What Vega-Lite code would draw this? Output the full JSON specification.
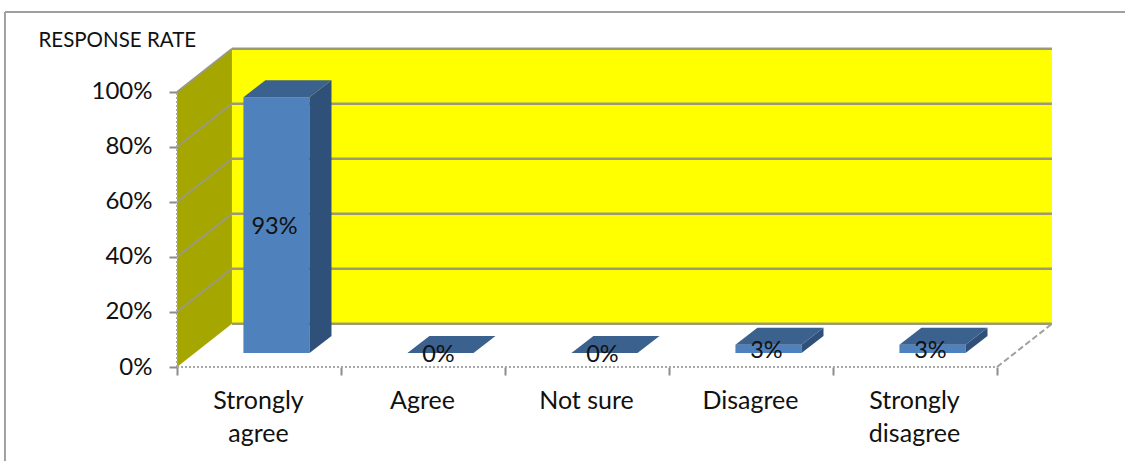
{
  "$schema": "https://vega.github.io/schema/vega-lite/v6.json",
  "width": 1125,
  "height": 461,
  "padding": 0,
  "autosize": {"type": "none"},
  "background": "white",
  "view": {"stroke": null},
  "config": {"font": "Lato", "text": {"font": "Lato"}},
  "params": [
    {"name": "depthX", "value": 0.335},
    {"name": "depthY", "value": 15.7},
    {"name": "barLeft", "value": 0.405},
    {"name": "barRight", "value": 0.808},
    {"name": "barDepthX", "value": 0.134},
    {"name": "barDepthY", "value": 6.18},
    {"name": "barBase", "value": 5.09}
  ],
  "datasets": {
    "responses": [
      {"category": "Strongly agree", "rate": 93},
      {"category": "Agree", "rate": 0},
      {"category": "Not sure", "rate": 0},
      {"category": "Disagree", "rate": 3},
      {"category": "Strongly disagree", "rate": 3}
    ],
    "levels": [
      {"level": 0}, {"level": 20}, {"level": 40},
      {"level": 60}, {"level": 80}, {"level": 100}
    ],
    "one": [{"note": "frame and walls"}]
  },
  "resolve": {"axis": {"x": "independent", "y": "independent"}},
  "layer": [
    {
      "data": {"name": "one"},
      "transform": [
        {"calculate": "depthX", "as": "wallLeft"},
        {"calculate": "5 + depthX", "as": "wallRight"},
        {"calculate": "depthY", "as": "wallBottom"},
        {"calculate": "100 + depthY", "as": "wallTop"}
      ],
      "mark": {"type": "rect", "fill": "#ffff00"},
      "encoding": {
        "x": {
          "field": "wallLeft", "type": "quantitative",
          "scale": {"domain": [-1.0793, 5.7805], "nice": false, "zero": false},
          "axis": {
            "orient": "bottom", "offset": -94, "values": [0, 1, 2, 3, 4, 5],
            "domain": false, "grid": false, "title": null,
            "tickSize": 8, "tickColor": "#8c8c8c", "tickWidth": 2,
            "labelOffset": 81, "labelPadding": 13, "labelFont": "Lato", "labelFontSize": 25,
            "labelColor": "#111111", "labelLineHeight": 33, "labelLimit": 300,
            "labelOverlap": false, "labelFlush": false, "labelBaseline": "top",
            "labelExpr": "datum.value == 0 ? ['Strongly', 'agree'] : datum.value == 1 ? 'Agree' : datum.value == 2 ? 'Not sure' : datum.value == 3 ? 'Disagree' : datum.value == 4 ? ['Strongly', 'disagree'] : ''"
          }
        },
        "x2": {"field": "wallRight"},
        "y": {
          "field": "wallBottom", "type": "quantitative",
          "scale": {"domain": [-34.18, 133.45], "nice": false, "zero": false},
          "axis": {
            "orient": "left", "offset": -177, "values": [0, 20, 40, 60, 80, 100],
            "domain": false, "grid": false,
            "tickSize": 8, "tickColor": "#8c8c8c", "tickWidth": 2,
            "labelPadding": 17, "labelFont": "Lato", "labelFontSize": 24, "labelColor": "#111111",
            "labelExpr": "datum.value + '%'",
            "title": "RESPONSE RATE", "titleFont": "Lato", "titleFontSize": 20.5,
            "titleFontWeight": "normal", "titleColor": "#111111", "titleAngle": 0,
            "titleAlign": "left", "titleBaseline": "middle", "titleX": -139, "titleY": 40
          }
        },
        "y2": {"field": "wallTop"}
      }
    },
    {
      "data": {"name": "one"},
      "transform": [
        {"calculate": "[0, 1]", "as": "t"},
        {"flatten": ["t"]},
        {"calculate": "datum.t * depthX", "as": "px"},
        {"calculate": "datum.t * depthY", "as": "low"},
        {"calculate": "100 + datum.t * depthY", "as": "high"}
      ],
      "mark": {"type": "area", "orient": "vertical", "fill": "#a6a600", "opacity": 1},
      "encoding": {
        "x": {"field": "px", "type": "quantitative", "axis": null},
        "y": {"field": "low", "type": "quantitative", "axis": null},
        "y2": {"field": "high"}
      }
    },
    {
      "data": {"name": "levels"},
      "transform": [
        {"calculate": "depthX", "as": "x0"},
        {"calculate": "5 + depthX", "as": "x1"},
        {"calculate": "datum.level + depthY", "as": "backLevel"}
      ],
      "mark": {"type": "rule", "stroke": "#9a9a7a", "strokeWidth": 2.5},
      "encoding": {
        "x": {"field": "x0", "type": "quantitative", "axis": null},
        "x2": {"field": "x1"},
        "y": {"field": "backLevel", "type": "quantitative", "axis": null}
      }
    },
    {
      "data": {"name": "levels"},
      "transform": [
        {"filter": "datum.level > 0"},
        {"calculate": "0", "as": "origin"},
        {"calculate": "depthX", "as": "x0"},
        {"calculate": "datum.level + depthY", "as": "backLevel"}
      ],
      "mark": {"type": "rule", "stroke": "#9a9a80", "strokeWidth": 2},
      "encoding": {
        "x": {"field": "origin", "type": "quantitative", "axis": null},
        "x2": {"field": "x0"},
        "y": {"field": "level", "type": "quantitative", "axis": null},
        "y2": {"field": "backLevel"}
      }
    },
    {
      "data": {"values": [{"x0": 0, "x1": 5, "y0": 0}]},
      "mark": {"type": "rule", "stroke": "#a8a8a8", "strokeWidth": 2, "strokeDash": [2, 2]},
      "encoding": {
        "x": {"field": "x0", "type": "quantitative", "axis": null},
        "x2": {"field": "x1"},
        "y": {"field": "y0", "type": "quantitative", "axis": null}
      }
    },
    {
      "data": {"values": [{"x0": 0, "y0": 0, "y1": 100}]},
      "mark": {"type": "rule", "stroke": "#a8a8a8", "strokeWidth": 2, "strokeDash": [2, 2]},
      "encoding": {
        "x": {"field": "x0", "type": "quantitative", "axis": null},
        "y": {"field": "y0", "type": "quantitative", "axis": null},
        "y2": {"field": "y1"}
      }
    },
    {
      "data": {"values": [{"x0": 5, "y0": 0}]},
      "transform": [
        {"calculate": "5 + depthX", "as": "x1"},
        {"calculate": "depthY", "as": "y1"}
      ],
      "mark": {"type": "rule", "stroke": "#a0a0a0", "strokeWidth": 2, "strokeDash": [6, 3]},
      "encoding": {
        "x": {"field": "x0", "type": "quantitative", "axis": null},
        "x2": {"field": "x1"},
        "y": {"field": "y0", "type": "quantitative", "axis": null},
        "y2": {"field": "y1"}
      }
    },
    {
      "data": {"values": [{"x0": -1.049, "y0": -34.18, "y1": 129.1}]},
      "mark": {"type": "rule", "stroke": "#a0a0a0", "strokeWidth": 2},
      "encoding": {
        "x": {"field": "x0", "type": "quantitative", "axis": null},
        "y": {"field": "y0", "type": "quantitative", "axis": null},
        "y2": {"field": "y1"}
      }
    },
    {
      "data": {"values": [{"x0": -1.049, "x1": 5.7805, "y0": 129.1}]},
      "mark": {"type": "rule", "stroke": "#a0a0a0", "strokeWidth": 2},
      "encoding": {
        "x": {"field": "x0", "type": "quantitative", "axis": null},
        "x2": {"field": "x1"},
        "y": {"field": "y0", "type": "quantitative", "axis": null}
      }
    },
    {
      "data": {"name": "responses"},
      "transform": [
        {"window": [{"op": "row_number", "as": "rank"}]},
        {"calculate": "datum.rank - 1 + barLeft", "as": "left"},
        {"calculate": "datum.rank - 1 + barRight", "as": "right"},
        {"calculate": "barBase", "as": "base"},
        {"calculate": "barBase + datum.rate", "as": "top"},
        {"calculate": "barBase + datum.rate / 2", "as": "middle"},
        {"calculate": "(datum.left + datum.right) / 2", "as": "centre"},
        {"calculate": "datum.rate + '%'", "as": "label"}
      ],
      "layer": [
        {
          "mark": {"type": "rect", "fill": "#4f81bd"},
          "encoding": {
            "x": {"field": "left", "type": "quantitative", "axis": null},
            "x2": {"field": "right"},
            "y": {"field": "base", "type": "quantitative", "axis": null},
            "y2": {"field": "top"}
          }
        },
        {
          "transform": [
            {"calculate": "[0, 1]", "as": "t"},
            {"flatten": ["t"]},
            {"calculate": "datum.right + datum.t * barDepthX", "as": "sx"},
            {"calculate": "datum.base + datum.t * barDepthY", "as": "sLow"},
            {"calculate": "datum.top + datum.t * barDepthY", "as": "sHigh"}
          ],
          "mark": {"type": "area", "orient": "vertical", "fill": "#2f5079", "opacity": 1},
          "encoding": {
            "x": {"field": "sx", "type": "quantitative", "axis": null},
            "y": {"field": "sLow", "type": "quantitative", "axis": null},
            "y2": {"field": "sHigh"},
            "detail": {"field": "category", "type": "nominal"}
          }
        },
        {
          "transform": [
            {"calculate": "[0, 1]", "as": "t"},
            {"flatten": ["t"]},
            {"calculate": "datum.left + datum.t * barDepthX", "as": "tLeft"},
            {"calculate": "datum.right + datum.t * barDepthX", "as": "tRight"},
            {"calculate": "datum.top + datum.t * barDepthY", "as": "tY"}
          ],
          "mark": {"type": "area", "orient": "horizontal", "fill": "#3b618f", "opacity": 1},
          "encoding": {
            "x": {"field": "tLeft", "type": "quantitative", "axis": null},
            "x2": {"field": "tRight"},
            "y": {"field": "tY", "type": "quantitative", "axis": null},
            "detail": {"field": "category", "type": "nominal"}
          }
        },
        {
          "mark": {"type": "text", "font": "Lato", "fontSize": 23.5, "color": "#111111", "align": "center", "baseline": "middle", "dx": -2, "dy": 2},
          "encoding": {
            "x": {"field": "centre", "type": "quantitative", "axis": null},
            "y": {"field": "middle", "type": "quantitative", "axis": null},
            "text": {"field": "label", "type": "nominal"}
          }
        }
      ]
    }
  ]
}
